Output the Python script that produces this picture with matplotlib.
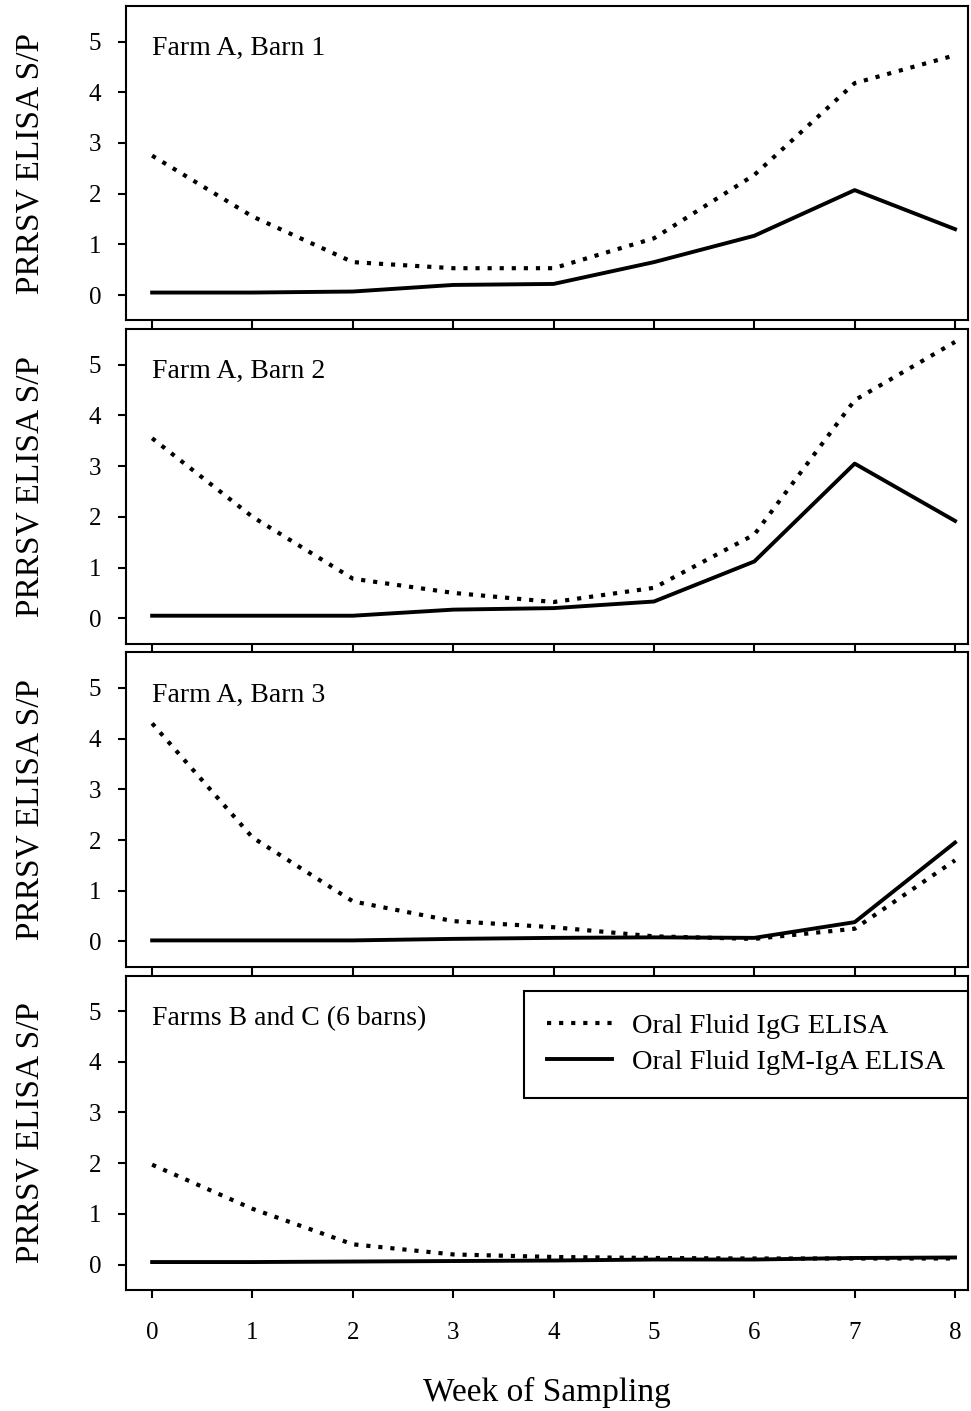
import numpy as np
import matplotlib.pyplot as plt

plt.rcParams['font.family'] = ['Liberation Serif', 'DejaVu Serif']

# 采样周
weeks = [0, 1, 2, 3, 4, 5, 6, 7, 8]

# 各面板标题
panel_titles = ['Farm A, Barn 1', 'Farm A, Barn 2', 'Farm A, Barn 3', 'Farms B and C (6 barns)']

# Oral Fluid IgG ELISA
igg_barn1 = [2.75, 1.55, 0.65, 0.53, 0.53, 1.12, 2.37, 4.18, 4.73]
igg_barn2 = [3.55, 2.00, 0.78, 0.50, 0.32, 0.60, 1.65, 4.30, 5.45]
igg_barn3 = [4.30, 2.05, 0.79, 0.40, 0.28, 0.10, 0.05, 0.25, 1.60]
igg_bc = [1.97, 1.10, 0.40, 0.20, 0.15, 0.13, 0.12, 0.12, 0.12]

# Oral Fluid IgM-IgA ELISA
igm_barn1 = [0.05, 0.05, 0.07, 0.20, 0.22, 0.65, 1.17, 2.07, 1.30]
igm_barn2 = [0.05, 0.05, 0.05, 0.17, 0.20, 0.33, 1.12, 3.05, 1.92]
igm_barn3 = [0.02, 0.02, 0.02, 0.05, 0.07, 0.08, 0.07, 0.38, 1.95]
igm_bc = [0.05, 0.05, 0.06, 0.07, 0.08, 0.10, 0.10, 0.13, 0.14]

igg_all = [igg_barn1, igg_barn2, igg_barn3, igg_bc]
igm_all = [igm_barn1, igm_barn2, igm_barn3, igm_bc]

fig, axes = plt.subplots(4, 1, figsize=(9.71, 14.11), dpi=100, sharex=True)
plt.subplots_adjust(left=0.1298, right=0.997, top=0.9957, bottom=0.0858, hspace=0.028)

for i, ax in enumerate(axes):
    ax.plot(weeks, igg_all[i], color='black', lw=3.0, linestyle=(0, (1, 1.9)),
            dash_capstyle='butt', label='Oral Fluid IgG ELISA')
    ax.plot(weeks, igm_all[i], color='black', lw=2.8, label='Oral Fluid IgM-IgA ELISA')

    ax.text(0.0, 4.86, panel_titles[i], fontsize=20, ha='left', va='center')

    ax.set_xlim(-0.26, 8.13)
    ax.set_ylim(-0.5, 5.7)
    ax.set_yticks([0, 1, 2, 3, 4, 5])
    ax.set_xticks(weeks)
    ax.set_ylabel('PRRSV ELISA S/P', fontsize=24, labelpad=31)

    for side in ['top', 'right', 'bottom', 'left']:
        ax.spines[side].set_linewidth(1.5)
    ax.tick_params(axis='both', direction='out', length=6, width=1.5,
                   labelsize=18, pad=12)
    ax.tick_params(axis='x', pad=17)

# 图例
leg = axes[3].legend(loc='upper right', bbox_to_anchor=(1.0, 0.952), borderaxespad=0,
                     fontsize=20.5, handlelength=2.3, handletextpad=0.7,
                     fancybox=False, edgecolor='black', framealpha=1,
                     borderpad=0.8, labelspacing=0.35)
leg.get_frame().set_linewidth(1.5)

axes[3].set_xlabel('Week of Sampling', fontsize=24, labelpad=24)

# 保存图像
plt.savefig('out.png')
